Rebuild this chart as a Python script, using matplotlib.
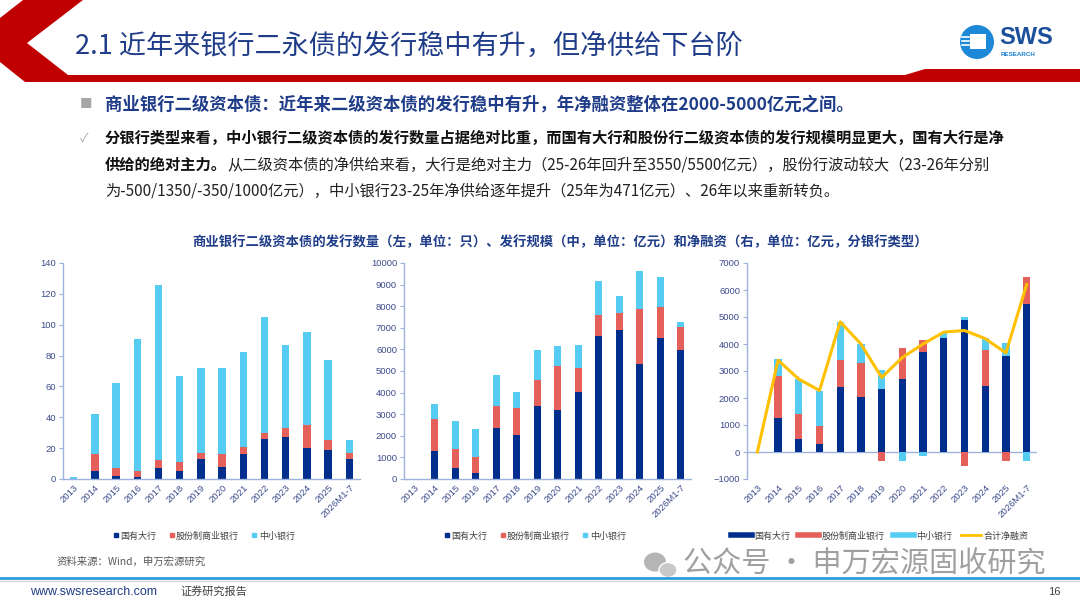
import numpy as np
import matplotlib.pyplot as plt
from matplotlib.patches import Polygon, Circle, Rectangle, Ellipse
from matplotlib.lines import Line2D

plt.rcParams['font.family'] = ['Noto Sans CJK SC', 'DejaVu Sans']

# ---- data ----
years = ['2013', '2014', '2015', '2016', '2017', '2018', '2019', '2020',
         '2021', '2022', '2023', '2024', '2025', '2026M1-7']
series_names = ['国有大行', '股份制商业银行', '中小银行']

# issuance count (只)
cnt_big = [0, 5, 2, 1, 7, 5, 13, 8, 16, 26, 27, 20, 19, 13]
cnt_share = [0, 11, 5, 4, 5, 6, 4, 8, 5, 4, 6, 15, 6, 4]
cnt_small = [1, 26, 55, 86, 114, 56, 55, 56, 61, 75, 54, 60, 52, 8]

# issuance amount (亿元)
amt_big = [0, 1280, 500, 300, 2380, 2020, 3400, 3200, 4020, 6620, 6900, 5330, 6520, 5960]
amt_share = [0, 1520, 900, 700, 1020, 1260, 1200, 2050, 1130, 980, 780, 2540, 1460, 1090]
amt_small = [0, 680, 1300, 1300, 1430, 740, 1360, 900, 1050, 1550, 770, 1750, 1370, 200]

# net financing (亿元)
net_big = [0, 1270, 500, 300, 2400, 2020, 2330, 2700, 3700, 4230, 4900, 2430, 3550, 5500]
net_share = [0, 1530, 900, 680, 1000, 1280, -320, 1150, 430, 0, -500, 1350, -350, 1000]
net_small = [0, 650, 1300, 1270, 1400, 700, 720, -350, -130, 220, 100, 430, 471, -320]
net_total = [0, 3400, 2700, 2280, 4820, 4000, 2760, 3500, 4000, 4440, 4500, 4200, 3670, 6200]

c_big = '#002E8C'
c_share = '#E5605B'
c_small = '#57CCF3'
c_line = '#FFC000'
c_axis = '#9DB2DC'
c_tick = '#3C4B8C'
c_title = '#1F3C88'
num_font = ['Liberation Sans', 'DejaVu Sans']

W, H = 1080, 608
fig = plt.figure(figsize=(W / 100, H / 100), dpi=100)

# background layer in pixel coords
bg = fig.add_axes([0, 0, 1, 1])
bg.set_xlim(0, W)
bg.set_ylim(H, 0)
bg.axis('off')

# red chevron header
bg.add_patch(Polygon([(23, 0), (83, 0), (27, 43), (68, 75), (905, 75), (925, 69),
                      (1080, 69), (1080, 82), (25, 82), (0, 62), (0, 18)],
                     closed=True, color='#C00000', lw=0))
bg.text(75, 46, '2.1 近年来银行二永债的发行稳中有升，但净供给下台阶',
        fontsize=19.5, color=c_title, va='center', ha='left')

# logo
bg.add_patch(Circle((977, 42), 17, color='#1E88D8', lw=0))
bg.add_patch(Rectangle((970, 34), 16, 15, color='white', lw=0))
for yy in [37, 41, 45]:
    bg.plot([962, 969], [yy, yy], color='white', lw=1.2)
bg.text(999, 38, 'SWS', fontsize=17, fontweight='bold', color='#1B4F9C',
        va='center', ha='left', family=num_font)
bg.text(1001, 54, 'RESEARCH', fontsize=4.5, fontweight='bold', color='#1B7FD0',
        va='center', ha='left', family=num_font)

# bullet texts
bg.text(80, 105, '■', fontsize=9, color='#A6A6A6', va='center', ha='left')
bg.text(105, 105, '商业银行二级资本债：近年来二级资本债的发行稳中有升，年净融资整体在2000-5000亿元之间。',
        fontsize=12.5, fontweight='bold', color=c_title, va='center', ha='left')
bg.text(80, 138, '✓', fontsize=9, color='#A6A6A6', va='center', ha='left')
fs = 11.0
bg.text(105, 138, '分银行类型来看，中小银行二级资本债的发行数量占据绝对比重，而国有大行和股份行二级资本债的发行规模明显更大，国有大行是净',
        fontsize=fs, fontweight='bold', color='#111111', va='center', ha='left')
t_bold = bg.text(105, 165, '供给的绝对主力。', fontsize=fs, fontweight='bold',
                 color='#111111', va='center', ha='left')
bg.annotate('从二级资本债的净供给来看，大行是绝对主力（25-26年回升至3550/5500亿元），股份行波动较大（23-26年分别',
            xy=(1, 0.5), xycoords=t_bold, fontsize=fs, color='#222222',
            va='center', ha='left')
bg.text(105, 191, '为-500/1350/-350/1000亿元），中小银行23-25年净供给逐年提升（25年为471亿元）、26年以来重新转负。',
        fontsize=fs, color='#222222', va='center', ha='left')

# chart title
bg.text(560, 242, '商业银行二级资本债的发行数量（左，单位：只）、发行规模（中，单位：亿元）和净融资（右，单位：亿元，分银行类型）',
        fontsize=9.6, fontweight='bold', color=c_title, va='center', ha='center')

# footer
bg.text(57, 562, '资料来源：Wind，申万宏源研究', fontsize=7.5, color='#595959', va='center')
bg.add_patch(Ellipse((655, 562), 22, 19, color='#B5B5B5', lw=0))
bg.add_patch(Ellipse((668, 570), 18, 15, color='#C8C8C8', ec='white', lw=1))
bg.text(683, 565, '公众号 · 申万宏源固收研究', fontsize=21, color='#A0A0A0', va='center')
bg.plot([0, W], [578, 578], color='#2E9BDA', lw=2)
bg.plot([0, W], [581, 581], color='#D0D0D0', lw=0.8)
bg.text(30, 592, 'www.swsresearch.com', fontsize=9, color='#1F3C88', va='center', family=num_font)
bg.text(180, 591, '证券研究报告', fontsize=8, color='#404040', va='center')
bg.text(1048, 592, '16', fontsize=8, color='#404040', va='center', family=num_font)


def px_axes(left, right, top, bottom):
    return fig.add_axes([left / W, 1 - bottom / H, (right - left) / W, (bottom - top) / H])


def style(ax, ymin, ymax, step):
    ax.set_ylim(ymin, ymax)
    ax.set_yticks(np.arange(ymin, ymax + 1, step))
    ax.set_xlim(-0.5, len(years) - 0.5)
    ax.set_xticks(range(len(years)))
    ax.set_xticklabels(years, rotation=45, ha='right', rotation_mode='anchor')
    for s in ['top', 'right']:
        ax.spines[s].set_visible(False)
    for s in ['left', 'bottom']:
        ax.spines[s].set_color(c_axis)
        ax.spines[s].set_linewidth(1)
    ax.tick_params(axis='y', length=3, color=c_axis, labelsize=6.8, labelcolor=c_tick, pad=2)
    ax.tick_params(axis='x', length=0, labelsize=6.8, labelcolor=c_tick, pad=3)
    for lab in ax.get_xticklabels() + ax.get_yticklabels():
        lab.set_family(num_font)
    ax.patch.set_alpha(0)


x = np.arange(len(years))
bw = 0.35

# chart 1: counts
ax1 = px_axes(63, 360, 263, 479)
b = np.zeros(len(years))
for vals, col in [(cnt_big, c_big), (cnt_share, c_share), (cnt_small, c_small)]:
    ax1.bar(x, vals, bw, bottom=b, color=col, lw=0)
    b = b + np.array(vals)
style(ax1, 0, 140, 20)

# chart 2: amounts
ax2 = px_axes(404, 691, 263, 479)
b = np.zeros(len(years))
for vals, col in [(amt_big, c_big), (amt_share, c_share), (amt_small, c_small)]:
    ax2.bar(x, vals, bw, bottom=b, color=col, lw=0)
    b = b + np.array(vals)
style(ax2, 0, 10000, 1000)

# chart 3: net financing, positives and negatives stacked separately
ax3 = px_axes(747, 1037, 263, 479)
pos = np.zeros(len(years))
neg = np.zeros(len(years))
for vals, col in [(net_big, c_big), (net_share, c_share), (net_small, c_small)]:
    v = np.array(vals, dtype=float)
    bottoms = np.where(v >= 0, pos, neg)
    ax3.bar(x, v, bw, bottom=bottoms, color=col, lw=0)
    pos = pos + np.where(v > 0, v, 0)
    neg = neg + np.where(v < 0, v, 0)
ax3.plot(x, net_total, color=c_line, lw=2.2)
style(ax3, -1000, 7000, 1000)
ax3.spines['bottom'].set_visible(False)
ax3.axhline(0, color=c_axis, lw=1, zorder=0.5)

# legends
sq = [Line2D([], [], marker='s', ls='none', color=c, markersize=3.5) for c in [c_big, c_share, c_small]]
for xc in [204, 535]:
    fig.legend(sq, series_names, loc='center', bbox_to_anchor=(xc / W, 1 - 536 / H),
               ncol=3, frameon=False, fontsize=6.5, handlelength=0.6, handletextpad=0.2,
               columnspacing=1.4, labelcolor='#404040')
h3 = [Line2D([], [], color=c, lw=4) for c in [c_big, c_share, c_small]] + \
     [Line2D([], [], color=c_line, lw=2)]
fig.legend(h3, series_names + ['合计净融资'], loc='center', bbox_to_anchor=(880 / W, 1 - 536 / H),
           ncol=4, frameon=False, fontsize=6.5, handlelength=2.3, handletextpad=0.3,
           columnspacing=0.9, labelcolor='#404040')

fig.savefig('out.png', dpi=100)
